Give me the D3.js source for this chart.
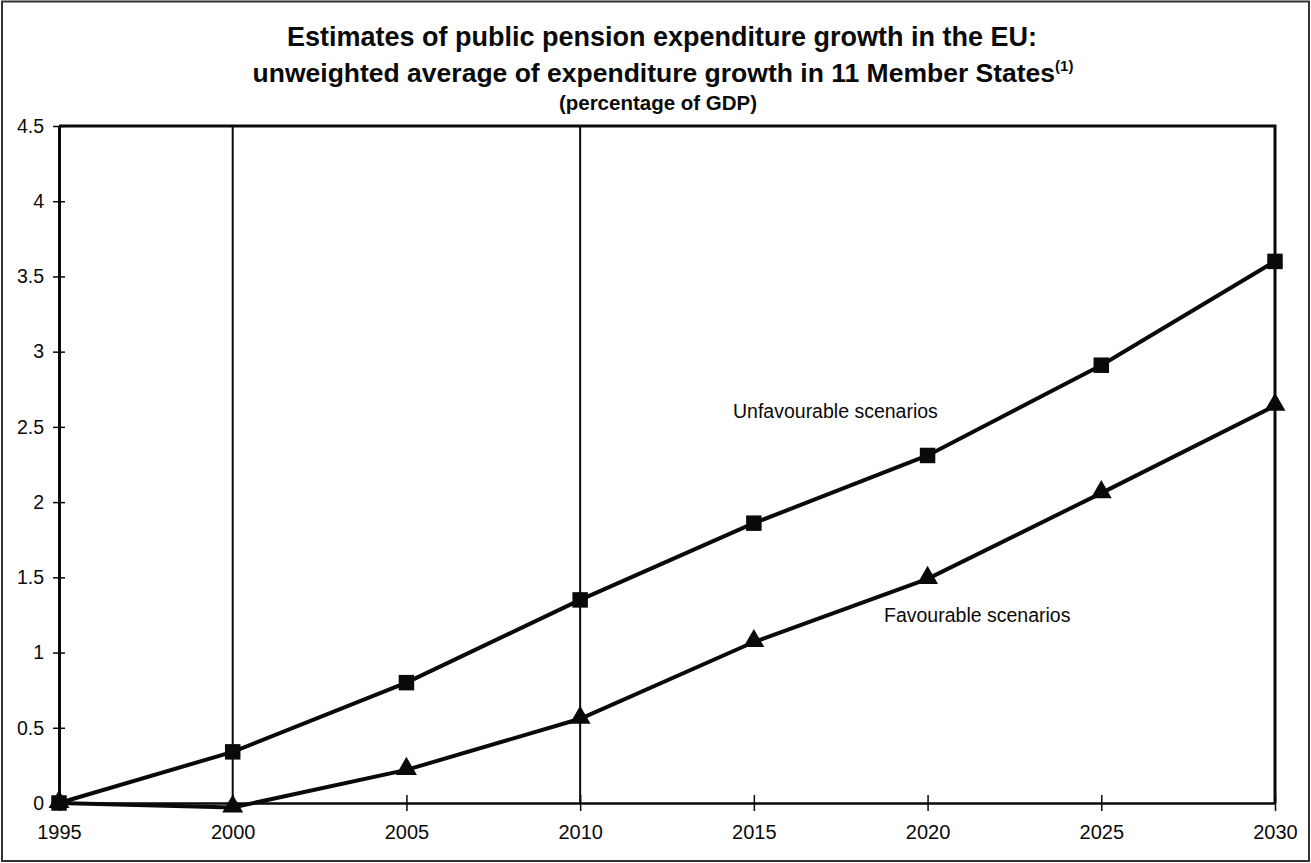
<!DOCTYPE html>
<html>
<head>
<meta charset="utf-8">
<script src="https://cdn.jsdelivr.net/npm/d3@7"></script>
<style>
  html, body { margin: 0; padding: 0; background: #fff; }
  svg { display: block; }
</style>
</head>
<body>
<svg id="chart" width="1311" height="863"></svg>
<script>
// Years on the horizontal axis
const years = [1995, 2000, 2005, 2010, 2015, 2020, 2025, 2030];
// Expenditure growth, percentage points of GDP
const unfavourable = [0, 0.34, 0.80, 1.35, 1.86, 2.31, 2.91, 3.60];
const favourable = [0, -0.03, 0.22, 0.56, 1.07, 1.49, 2.06, 2.64];
const yTicks = [0, 0.5, 1, 1.5, 2, 2.5, 3, 3.5, 4, 4.5];
const gridYears = [2000, 2010];

const svg = d3.select("#chart");
const W = 1311, H = 863;
const m = { left: 59, right: 36, top: 126, bottom: 60 };

const x = d3.scaleLinear().domain([1995, 2030]).range([m.left, W - m.right]);
const y = d3.scaleLinear().domain([0, 4.5]).range([H - m.bottom, m.top]);

const font = "'Liberation Sans', Arial, sans-serif";
const ink = "#0a0a0a";

// outer frame
svg.append("rect").attr("x", 2).attr("y", 1.5).attr("width", W - 4).attr("height", H - 3.5)
  .attr("fill", "#fff").attr("stroke", "#333").attr("stroke-width", 2);

// titles
const title = svg.append("g").attr("font-family", font).attr("fill", ink)
  .attr("font-weight", "bold").attr("text-anchor", "middle");
title.append("text").attr("x", 662).attr("y", 46).attr("font-size", 27)
  .text("Estimates of public pension expenditure growth in the EU:");
const t2 = title.append("text").attr("x", 663).attr("y", 82).attr("font-size", 26.5);
t2.append("tspan").text("unweighted average of expenditure growth in 11 Member States");
t2.append("tspan").attr("font-size", 15).attr("dy", -11).text("(1)");
title.append("text").attr("x", 658).attr("y", 110).attr("font-size", 20.5)
  .text("(percentage of GDP)");

// plot frame: top and right edges
svg.append("path")
  .attr("d", `M${x(1995)},${y(4.5)}H${x(2030)}V${y(0)}`)
  .attr("fill", "none").attr("stroke", ink).attr("stroke-width", 3);

// vertical reference lines
svg.selectAll(".vline").data(gridYears).join("line")
  .attr("x1", d => x(d)).attr("x2", d => x(d))
  .attr("y1", y(4.5)).attr("y2", y(0))
  .attr("stroke", ink).attr("stroke-width", 2);

// y axis
const yAxis = svg.append("g").attr("transform", `translate(${x(1995)},0)`)
  .call(d3.axisLeft(y).tickValues(yTicks).tickSize(7).tickSizeOuter(0)
    .tickFormat(d => String(d)));
yAxis.select(".domain").attr("stroke", ink).attr("stroke-width", 3);
yAxis.selectAll(".tick line").attr("stroke", ink).attr("stroke-width", 1.5)
  .attr("x1", 6).attr("x2", -6);
yAxis.selectAll(".tick text").attr("font-family", font).attr("font-size", 19.5)
  .attr("fill", ink).attr("x", -15);

// x axis at zero
const xAxis = svg.append("g").attr("transform", `translate(0,${y(0)})`)
  .call(d3.axisBottom(x).tickValues(years).tickSize(8).tickSizeOuter(0)
    .tickFormat(d3.format("d")));
xAxis.select(".domain").attr("stroke", ink).attr("stroke-width", 2.5);
xAxis.selectAll(".tick line").attr("stroke", ink).attr("stroke-width", 1.5)
  .attr("y1", -8).attr("y2", 8);
xAxis.selectAll(".tick text").attr("font-family", font).attr("font-size", 20)
  .attr("fill", ink).attr("y", 22);

// series lines
const line = d3.line().x((d, i) => x(years[i])).y(d => y(d));
svg.append("path").datum(favourable).attr("d", line)
  .attr("fill", "none").attr("stroke", ink).attr("stroke-width", 4);
svg.append("path").datum(unfavourable).attr("d", line)
  .attr("fill", "none").attr("stroke", ink).attr("stroke-width", 4);

// markers
const sq = d3.symbol().type(d3.symbolSquare).size(240);
const tri = d3.symbol().type(d3.symbolTriangle).size(190);
svg.selectAll(".sq").data(unfavourable).join("path")
  .attr("d", sq).attr("fill", ink)
  .attr("transform", (d, i) => `translate(${x(years[i])},${y(d)})`);
svg.selectAll(".tri").data(favourable).join("path")
  .attr("d", tri).attr("fill", ink)
  .attr("transform", (d, i) => `translate(${x(years[i])},${y(d) - 1})`);

// series labels
svg.append("text").attr("x", 733).attr("y", 418).attr("font-family", font)
  .attr("font-size", 19.5).attr("fill", ink).text("Unfavourable scenarios");
svg.append("text").attr("x", 884).attr("y", 622).attr("font-family", font)
  .attr("font-size", 19.5).attr("fill", ink).text("Favourable scenarios");
</script>
</body>
</html>
